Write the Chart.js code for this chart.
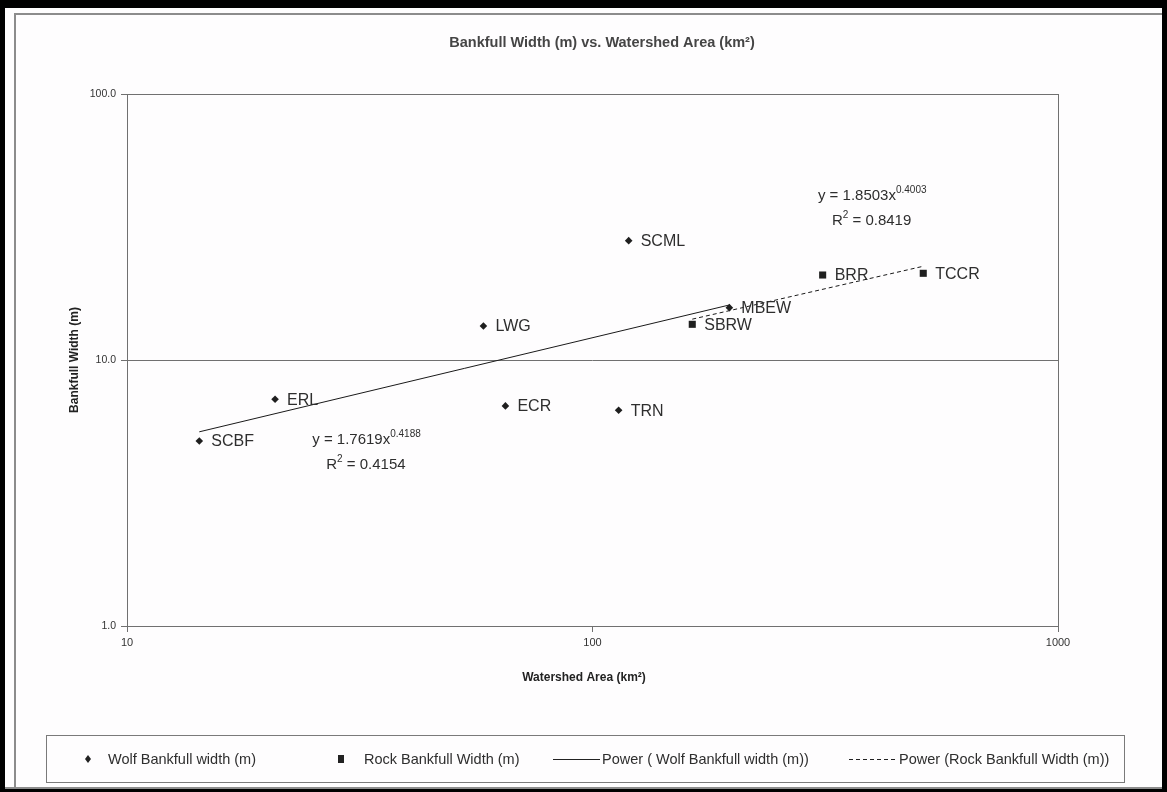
<!DOCTYPE html>
<html>
<head>
<meta charset="utf-8">
<title>Bankfull Width vs. Watershed Area</title>
<script src="https://cdn.jsdelivr.net/npm/chart.js@4/dist/chart.umd.min.js"></script>
<style>
  body { margin: 0; background: #fefdfe; }
  #chart { display: block; }
</style>
</head>
<body>
<canvas id="chart" width="1167" height="792"></canvas>
<script>
// values
const wolfSites = ['SCBF', 'ERL', 'LWG', 'ECR', 'TRN', 'SCML', 'MBEW']
const wolfArea = [14.3, 20.8, 58.3, 65.0, 113.8, 119.6, 196.8]
const wolfWidth = [4.96, 7.12, 13.42, 6.72, 6.47, 28.1, 15.73]

const rockSites = ['SBRW', 'BRR', 'TCCR']
const rockArea = [163.8, 312.2, 513.5]
const rockWidth = [13.62, 20.87, 21.18]

// power trendline ends (straight on log-log)
const wolfFitArea = [14.3, 196.8]
const wolfFitWidth = [5.37, 16.1]
const rockFitArea = [163.8, 513.5]
const rockFitWidth = [14.24, 22.51]

const xTicks = [10, 100, 1000]
const yTicks = [1, 10, 100]

const wolfEq = { a: '1.7619', b: '0.4188', r2: '0.4154' }
const rockEq = { a: '1.8503', b: '0.4003', r2: '0.8419' }

const legendLabels = ['Wolf Bankfull width (m)', 'Rock Bankfull Width (m)',
  'Power ( Wolf Bankfull width (m))', 'Power (Rock Bankfull Width (m))']

const FONT = '"Liberation Sans", Arial, sans-serif'
const INK = '#2e2e2e'
const AXIS = '#707070'

function pts(xs, ys) {
  return xs.map((x, i) => ({ x: x, y: ys[i] }))
}

// outer frame, title, axis titles, plot border
const framePlugin = {
  id: 'frame',
  beforeDraw(chart) {
    const ctx = chart.ctx
    const W = chart.width, H = chart.height
    ctx.save()
    ctx.fillStyle = '#fefdfe'
    ctx.fillRect(0, 0, W, H)
    ctx.fillStyle = '#000'
    ctx.fillRect(0, 0, W, 8)
    ctx.fillRect(0, 0, 5, H)
    ctx.fillRect(W - 5, 0, 5, H)
    ctx.fillRect(0, H - 3, W, 3)
    ctx.strokeStyle = '#8c8c8c'
    ctx.lineWidth = 2
    ctx.beginPath()
    ctx.moveTo(15, H - 4); ctx.lineTo(15, 14); ctx.lineTo(W - 5, 14)
    ctx.moveTo(5, H - 4); ctx.lineTo(W - 5, H - 4)
    ctx.stroke()

    ctx.fillStyle = '#454545'
    ctx.textAlign = 'center'
    ctx.textBaseline = 'middle'
    ctx.font = 'bold 14.5px ' + FONT
    ctx.fillText('Bankfull Width (m) vs. Watershed Area (km²)', 602, 43)

    const a = chart.chartArea
    ctx.fillStyle = '#222'
    ctx.font = 'bold 12px ' + FONT
    ctx.fillText('Watershed Area (km²)', 584, 678)
    ctx.translate(75, (a.top + a.bottom) / 2)
    ctx.rotate(-Math.PI / 2)
    ctx.fillText('Bankfull Width (m)', 0, 0)
    ctx.restore()
  },
  beforeDatasetsDraw(chart) {
    const a = chart.chartArea
    const ctx = chart.ctx
    ctx.save()
    ctx.strokeStyle = AXIS
    ctx.lineWidth = 1
    ctx.strokeRect(Math.round(a.left) + 0.5, Math.round(a.top) + 0.5,
      Math.round(a.right - a.left), Math.round(a.bottom - a.top))
    ctx.restore()
  }
}

// site names next to points + trendline equations
function drawEq(ctx, x, y, eq) {
  ctx.font = '15px ' + FONT
  ctx.textAlign = 'left'
  ctx.textBaseline = 'middle'
  let s = 'y = ' + eq.a + 'x'
  ctx.fillText(s, x, y)
  let w = ctx.measureText(s).width
  ctx.font = '10px ' + FONT
  ctx.fillText(eq.b, x + w, y - 6)
  let rx = x + 14, ry = y + 25
  ctx.font = '15px ' + FONT
  ctx.fillText('R', rx, ry)
  w = ctx.measureText('R').width
  ctx.font = '10px ' + FONT
  ctx.fillText('2', rx + w, ry - 6)
  let w2 = ctx.measureText('2').width
  ctx.font = '15px ' + FONT
  ctx.fillText(' = ' + eq.r2, rx + w + w2, ry)
}

const labelPlugin = {
  id: 'labels',
  afterDatasetsDraw(chart) {
    const ctx = chart.ctx
    ctx.save()
    ctx.fillStyle = INK
    ctx.font = '16px ' + FONT
    ctx.textAlign = 'left'
    ctx.textBaseline = 'middle'
    const names = [wolfSites, rockSites]
    names.forEach((list, di) => {
      chart.getDatasetMeta(di).data.forEach((p, i) => {
        ctx.fillText(list[i], p.x + 12, p.y + 1)
      })
    })
    const sx = chart.scales.x, sy = chart.scales.y
    drawEq(ctx, sx.getPixelForValue(25), sy.getPixelForValue(5.0), wolfEq)
    drawEq(ctx, sx.getPixelForValue(305), sy.getPixelForValue(41.4), rockEq)
    ctx.restore()
  }
}

// legend box at the bottom
const legendPlugin = {
  id: 'bottomLegend',
  afterDraw(chart) {
    const ctx = chart.ctx
    ctx.save()
    ctx.strokeStyle = '#7a7a7a'
    ctx.lineWidth = 1
    ctx.strokeRect(46.5, 735.5, 1078, 47)
    const cy = 759
    ctx.fillStyle = '#222'
    // diamond
    ctx.beginPath()
    ctx.moveTo(88, cy - 4); ctx.lineTo(91, cy); ctx.lineTo(88, cy + 4); ctx.lineTo(85, cy)
    ctx.closePath(); ctx.fill()
    // square
    ctx.fillRect(338, cy - 4, 6, 8)
    ctx.strokeStyle = '#222'
    ctx.beginPath()
    ctx.moveTo(553, cy + 0.5); ctx.lineTo(600, cy + 0.5)
    ctx.stroke()
    ctx.setLineDash([4, 3])
    ctx.beginPath()
    ctx.moveTo(849, cy + 0.5); ctx.lineTo(897, cy + 0.5)
    ctx.stroke()
    ctx.setLineDash([])
    ctx.fillStyle = INK
    ctx.font = '14.5px ' + FONT
    ctx.textAlign = 'left'
    ctx.textBaseline = 'middle'
    const tx = [108, 364, 602, 899]
    legendLabels.forEach((t, i) => ctx.fillText(t, tx[i], cy + 1))
    ctx.restore()
  }
}

const ctx = document.getElementById('chart').getContext('2d')
const chart = new Chart(ctx, {
  type: 'scatter',
  data: {
    datasets: [{
      label: legendLabels[0],
      data: pts(wolfArea, wolfWidth),
      pointStyle: 'rectRot',
      pointRadius: 3.8,
      backgroundColor: '#1f1f1f',
      borderColor: '#1f1f1f',
      borderWidth: 0
    }, {
      label: legendLabels[1],
      data: pts(rockArea, rockWidth),
      pointStyle: 'rect',
      pointRadius: 5,
      backgroundColor: '#1f1f1f',
      borderColor: '#1f1f1f',
      borderWidth: 0
    }, {
      label: legendLabels[2],
      data: pts(wolfFitArea, wolfFitWidth),
      showLine: true,
      pointRadius: 0,
      borderColor: '#1a1a1a',
      borderWidth: 1
    }, {
      label: legendLabels[3],
      data: pts(rockFitArea, rockFitWidth),
      showLine: true,
      pointRadius: 0,
      borderColor: '#1a1a1a',
      borderWidth: 1,
      borderDash: [4, 3]
    }]
  },
  options: {
    responsive: false,
    animation: false,
    devicePixelRatio: 1,
    layout: { padding: { top: 94, right: 109, bottom: 0, left: 0 } },
    plugins: {
      legend: { display: false },
      title: { display: false },
      tooltip: { enabled: false }
    },
    scales: {
      x: {
        type: 'logarithmic',
        min: 10,
        max: 1000,
        afterBuildTicks: s => { s.ticks = xTicks.map(v => ({ value: v })) },
        afterFit: s => { s.height = 166 },
        ticks: {
          autoSkip: false,
          maxRotation: 0,
          padding: 4,
          color: '#333',
          font: { family: FONT, size: 11 },
          callback: v => String(v)
        },
        grid: { drawOnChartArea: false, drawTicks: true, tickLength: 6, color: AXIS },
        border: { display: false }
      },
      y: {
        type: 'logarithmic',
        min: 1,
        max: 100,
        afterBuildTicks: s => { s.ticks = yTicks.map(v => ({ value: v })) },
        afterFit: s => { s.width = 127 },
        ticks: {
          autoSkip: false,
          padding: 5,
          color: '#333',
          font: { family: FONT, size: 10.5 },
          callback: v => Number(v).toFixed(1)
        },
        grid: { drawTicks: true, tickLength: 6, color: AXIS },
        border: { display: false }
      }
    }
  },
  plugins: [framePlugin, labelPlugin, legendPlugin]
})
</script>
</body>
</html>
